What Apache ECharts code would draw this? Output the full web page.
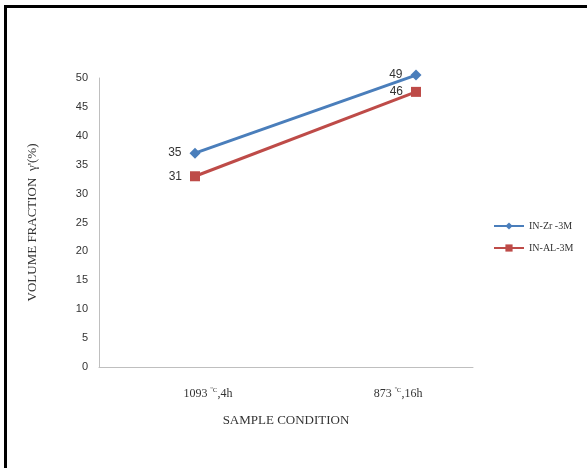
<!DOCTYPE html>
<html>
<head>
<meta charset="utf-8">
<script src="https://cdn.jsdelivr.net/npm/echarts@6/dist/echarts.min.js"></script>
<style>html,body{margin:0;padding:0;background:#fff}#c{width:587px;height:468px}</style>
</head>
<body>
<div id="c"></div>
<script>
var categories = ['1093 ºC,4h', '873 ºC,16h'];
var seriesNames = ['IN-Zr -3M', 'IN-AL-3M'];
var zrValues = [37, 50.5];
var alValues = [33, 47.6];
var zrLabels = ['35', '49'];
var alLabels = ['31', '46'];
var yTicks = [0, 5, 10, 15, 20, 25, 30, 35, 40, 45, 50];

var chart = echarts.init(document.getElementById('c'));
function pts(vals){ return vals.map(function(v,i){ return [i, v]; }); }
var catPos = [0.059, 0.919];
function catLabel(v){
  var idx = v < 0.5 ? 0 : 1;
  var parts = categories[idx].split(' ');
  var rest = parts[1];
  return parts[0] + ' {sup|' + rest.slice(0,2) + '}' + rest.slice(2);
}
var fontSans = 'Liberation Sans, Arial, sans-serif';
var fontSerif = 'Liberation Serif, Times New Roman, serif';
chart.setOption({
  animation:false,
  backgroundColor:'#fff',
  graphic:[{type:'polyline', shape:{points:[[5.5,470],[5.5,6.5],[590,6.5]]}, style:{stroke:'#000', lineWidth:3, fill:null}}],
  grid:{left:99, right:114, top:78, bottom:101},
  legend:{
    orient:'vertical', left:488, top:216, itemGap:12, itemWidth:30, itemHeight:9,
    textStyle:{fontFamily:fontSerif, fontSize:10, color:'#333'},
    data:seriesNames
  },
  xAxis:{
    type:'value', min:-0.4344, max:1.2579,
    splitLine:{show:false},
    axisLine:{show:true, onZero:false, lineStyle:{color:'#bfbfbf', width:1}},
    axisTick:{show:false},
    axisLabel:{
      customValues:catPos, margin:20, formatter:catLabel,
      fontFamily:fontSerif, fontSize:12, color:'#333',
      rich:{sup:{fontSize:7, verticalAlign:'top', padding:[0,0,6,0], fontFamily:fontSerif, color:'#333'}}
    },
    name:'SAMPLE CONDITION', nameLocation:'middle', nameGap:47,
    nameTextStyle:{fontFamily:fontSerif, fontSize:13, color:'#333'}
  },
  yAxis:{
    type:'value', min:0, max:50, interval:5,
    splitLine:{show:false},
    axisLine:{show:true, onZero:false, lineStyle:{color:'#bfbfbf', width:1}},
    axisTick:{show:false},
    axisLabel:{margin:11, fontFamily:fontSans, fontSize:11, color:'#333',
      formatter:function(v){ return yTicks.indexOf(v) >= 0 ? String(v) : ''; }},
    name:"VOLUME FRACTION  γ'(%)", nameLocation:'middle', nameGap:60, nameRotate:90,
    nameTextStyle:{fontFamily:fontSerif, fontSize:13, color:'#333'}
  },
  series:[
    {name:seriesNames[0], type:'line', data:pts(zrValues), symbol:'diamond', symbolSize:11, clip:false,
      itemStyle:{color:'#4a7ebb'}, lineStyle:{color:'#4a7ebb', width:3},
      label:{show:true, position:'left', distance:8, formatter:function(p){return zrLabels[p.dataIndex];}, fontFamily:fontSans, fontSize:12, color:'#333'}},
    {name:seriesNames[1], type:'line', data:pts(alValues), symbol:'rect', symbolSize:10, clip:false,
      itemStyle:{color:'#be4b48'}, lineStyle:{color:'#be4b48', width:3},
      label:{show:true, position:'left', distance:8, formatter:function(p){return alLabels[p.dataIndex];}, fontFamily:fontSans, fontSize:12, color:'#333'}}
  ]
});
</script>
</body>
</html>
